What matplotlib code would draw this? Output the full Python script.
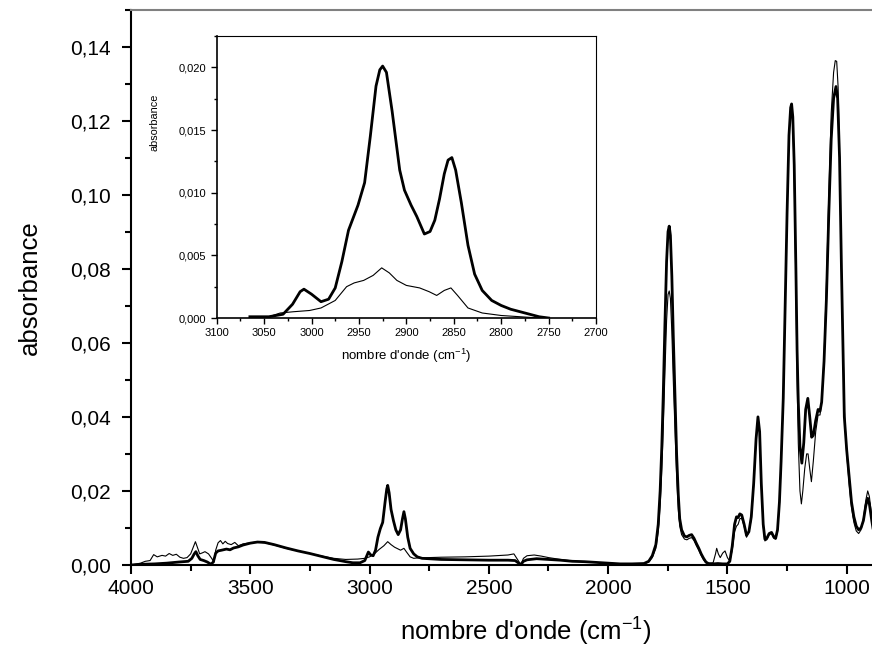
import numpy as np
import matplotlib
matplotlib.use('Agg')
import matplotlib.pyplot as plt
from matplotlib.ticker import MultipleLocator, FuncFormatter

plt.rcParams['font.family'] = ['Liberation Sans', 'DejaVu Sans']
plt.rcParams['mathtext.fontset'] = 'custom'
plt.rcParams['mathtext.rm'] = 'Liberation Sans'
plt.rcParams['mathtext.default'] = 'regular'

# main spectrum, thick line (wavenumber, absorbance)
wn_thick = [4000, 3950, 3900, 3850, 3800, 3760, 3745, 3735, 3728, 3720, 3710, 3695, 3680, 3665,
            3655, 3645, 3635, 3620, 3600, 3585, 3570, 3550, 3530, 3500, 3470, 3440, 3400, 3350,
            3300, 3250, 3200, 3150, 3100, 3070, 3040, 3020, 3005, 2995, 2985, 2975, 2965, 2955,
            2945, 2935, 2928, 2924, 2918, 2910, 2900, 2890, 2880, 2870, 2862, 2856, 2850, 2840,
            2830, 2815, 2800, 2780, 2700, 2600, 2500, 2420, 2390, 2375, 2366, 2355, 2340, 2300,
            2250, 2200, 2150, 2100, 2050, 2000, 1950, 1900, 1850, 1830, 1815, 1800, 1790, 1782,
            1775, 1769, 1762, 1755, 1749, 1744, 1739, 1733, 1727, 1720, 1713, 1706, 1700, 1692,
            1680, 1670, 1660, 1650, 1640, 1630, 1620, 1610, 1600, 1590, 1580, 1560, 1540, 1520,
            1500, 1490, 1480, 1470, 1462, 1455, 1448, 1440, 1430, 1420, 1410, 1400, 1390, 1380,
            1372, 1365, 1358, 1350, 1343, 1335, 1325, 1315, 1305, 1298, 1290, 1282, 1275, 1266,
            1258, 1250, 1242, 1235, 1231, 1226, 1220, 1213, 1208, 1203, 1196, 1188, 1180, 1172,
            1163, 1155, 1147, 1140, 1130, 1120, 1112, 1105, 1095, 1085, 1075, 1065, 1055, 1045,
            1038, 1030, 1022, 1010, 1000, 990, 980, 970, 960, 950, 940, 930, 920, 912, 905, 895,
            890]
abs_thick = [0.0, 0.0002, 0.0003, 0.0005, 0.0008, 0.001, 0.0018, 0.003, 0.0036, 0.0025, 0.0015,
             0.0012, 0.0008, 0.0002, 0.0008, 0.0032, 0.0038, 0.004, 0.0043, 0.0041, 0.0046, 0.0049,
             0.0054, 0.0059, 0.0062, 0.0061, 0.0055, 0.0046, 0.0038, 0.0031, 0.0023, 0.0015, 0.0009,
             0.0006, 0.0006, 0.0012, 0.0035, 0.0027, 0.0025, 0.004, 0.0075, 0.0098, 0.0115, 0.017,
             0.0205, 0.0215, 0.0195, 0.015, 0.012, 0.0095, 0.0082, 0.0095, 0.0125, 0.0144, 0.0125,
             0.0075, 0.0045, 0.003, 0.0022, 0.0018, 0.0015, 0.0014, 0.0013, 0.0013, 0.0012, 0.0005,
             0.0001, 0.001, 0.0014, 0.0017, 0.0015, 0.0013, 0.001, 0.0009, 0.0007, 0.0005, 0.0003,
             0.0003, 0.0004, 0.001, 0.0025, 0.0055, 0.011, 0.02, 0.032, 0.046, 0.065, 0.082, 0.09,
             0.0915, 0.089, 0.078, 0.062, 0.046, 0.03, 0.019, 0.0125, 0.0095, 0.0078, 0.0076, 0.008,
             0.0082, 0.0072, 0.0058, 0.0045, 0.003, 0.0018, 0.0008, 0.0004, 0.0003, 0.0004, 0.0003,
             0.0003, 0.001, 0.005, 0.011, 0.013, 0.0128, 0.0138, 0.0135, 0.011, 0.008, 0.009, 0.013,
             0.022, 0.034, 0.04, 0.036, 0.022, 0.011, 0.007, 0.0072, 0.0085, 0.0088, 0.0075, 0.0072,
             0.0095, 0.017, 0.028, 0.045, 0.07, 0.095, 0.116, 0.1235, 0.1245, 0.121, 0.108, 0.08,
             0.058, 0.044, 0.032, 0.0275, 0.033, 0.042, 0.045, 0.04, 0.0345, 0.035, 0.039, 0.042,
             0.0415, 0.044, 0.055, 0.072, 0.095, 0.115, 0.126, 0.1292, 0.126, 0.11, 0.08, 0.04,
             0.031, 0.024, 0.017, 0.013, 0.0105, 0.0095, 0.01, 0.012, 0.016, 0.018, 0.0165, 0.012,
             0.01]

# main spectrum, thin line
wn_thin = [4000, 3960, 3940, 3920, 3905, 3890, 3870, 3855, 3840, 3825, 3810, 3795, 3780, 3765,
           3750, 3738, 3730, 3722, 3712, 3700, 3690, 3675, 3662, 3652, 3645, 3635, 3625, 3615,
           3605, 3595, 3580, 3565, 3550, 3530, 3500, 3470, 3440, 3400, 3350, 3300, 3250, 3200,
           3150, 3100, 3050, 3020, 3000, 2980, 2960, 2940, 2924, 2910, 2895, 2880, 2870, 2856,
           2845, 2830, 2815, 2800, 2700, 2600, 2500, 2420, 2395, 2380, 2366, 2355, 2340, 2310,
           2280, 2250, 2200, 2150, 2100, 2050, 2000, 1950, 1900, 1850, 1830, 1815, 1800, 1790,
           1782, 1775, 1769, 1762, 1755, 1749, 1744, 1739, 1733, 1727, 1720, 1713, 1706, 1700,
           1692, 1680, 1670, 1660, 1650, 1640, 1630, 1620, 1610, 1600, 1590, 1575, 1560, 1550,
           1545, 1538, 1530, 1520, 1510, 1500, 1490, 1480, 1470, 1462, 1455, 1448, 1440, 1430,
           1420, 1410, 1400, 1390, 1380, 1372, 1365, 1358, 1350, 1343, 1335, 1325, 1315, 1305,
           1298, 1290, 1282, 1275, 1266, 1258, 1250, 1242, 1235, 1231, 1226, 1220, 1213, 1208,
           1203, 1196, 1190, 1184, 1176, 1168, 1162, 1155, 1148, 1140, 1130, 1120, 1112, 1105,
           1095, 1085, 1075, 1065, 1055, 1048, 1042, 1036, 1030, 1022, 1010, 1000, 990, 980, 970,
           960, 950, 940, 930, 920, 912, 905, 895, 890]
abs_thin = [0.0, 0.0005, 0.001, 0.0012, 0.0028, 0.0022, 0.0026, 0.0024, 0.0031, 0.0026, 0.0029,
            0.0021, 0.0018, 0.002, 0.003, 0.005, 0.0063, 0.0048, 0.003, 0.0033, 0.0036, 0.003,
            0.0018, 0.0008, 0.004, 0.006, 0.0066, 0.0057, 0.0064, 0.0058, 0.0055, 0.0061, 0.0052,
            0.0057, 0.006, 0.0062, 0.006, 0.0054, 0.0045, 0.0038, 0.0031, 0.0024, 0.0018, 0.0015,
            0.0016, 0.0018, 0.0022, 0.003, 0.0042, 0.0052, 0.0063, 0.0055, 0.0048, 0.0043, 0.004,
            0.0045, 0.0035, 0.0022, 0.0018, 0.0019, 0.0021, 0.0022, 0.0024, 0.0027, 0.003, 0.0015,
            0.0001, 0.0018, 0.0025, 0.0027, 0.0024, 0.002, 0.0015, 0.0011, 0.0009, 0.0007, 0.0005,
            0.0003, 0.0002, 0.0003, 0.0008, 0.002, 0.0045, 0.009, 0.016, 0.026, 0.037, 0.052,
            0.066, 0.073, 0.074, 0.072, 0.063, 0.05, 0.037, 0.024, 0.015, 0.0105, 0.0082, 0.007,
            0.0068, 0.0072, 0.0074, 0.0066, 0.0052, 0.004, 0.0026, 0.0014, 0.0006, 0.0004, 0.0006,
            0.003, 0.0045, 0.003, 0.002, 0.0032, 0.0038, 0.002, 0.001, 0.004, 0.009, 0.0105, 0.011,
            0.0125, 0.0126, 0.0105, 0.0075, 0.0088, 0.0125, 0.0215, 0.0335, 0.0395, 0.0355, 0.0215,
            0.0105, 0.0065, 0.0068, 0.0082, 0.0085, 0.0072, 0.007, 0.009, 0.0165, 0.0275, 0.0445,
            0.07, 0.095, 0.116, 0.1235, 0.1245, 0.12, 0.105, 0.075, 0.05, 0.033, 0.02, 0.0165, 0.02,
            0.026, 0.03, 0.03, 0.026, 0.0225, 0.028, 0.036, 0.0405, 0.0405, 0.044, 0.056, 0.076, 0.1,
            0.122, 0.133, 0.1362, 0.136, 0.129, 0.11, 0.08, 0.042, 0.03, 0.022, 0.0155, 0.0115,
            0.0092, 0.0085, 0.0095, 0.0125, 0.0175, 0.02, 0.0185, 0.013, 0.011]

# inset (C-H stretching region)
wn_in_thick = [3065, 3045, 3030, 3020, 3012, 3008, 3000, 2990, 2982, 2975, 2968, 2961, 2955,
               2951, 2944, 2938, 2932, 2928, 2925, 2921, 2915, 2907, 2902, 2895, 2889, 2881,
               2875, 2870, 2865, 2860, 2856, 2852, 2848, 2842, 2835, 2828, 2820, 2810, 2800,
               2790, 2775, 2760, 2750]
abs_in_thick = [0.0001, 0.0001, 0.0003, 0.0011, 0.0021, 0.0023, 0.0019, 0.0013, 0.0015, 0.0024,
                0.0045, 0.007, 0.0082, 0.009, 0.0108, 0.0145, 0.0185, 0.0198, 0.0201, 0.0196,
                0.0165, 0.0118, 0.0102, 0.009, 0.0081, 0.0067, 0.0069, 0.0078, 0.0095, 0.0115,
                0.0126, 0.0128, 0.0118, 0.0092, 0.0058, 0.0035, 0.0022, 0.0014, 0.001, 0.0007,
                0.0004, 0.0001, 0.0]
wn_in_thin = [3065, 3045, 3033, 3019, 3002, 2990, 2975, 2963, 2955, 2945, 2935, 2926, 2918,
              2910, 2900, 2886, 2876, 2868, 2860, 2853, 2846, 2835, 2820, 2800, 2780, 2760]
abs_in_thin = [0.0001, 0.0001, 0.0004, 0.0005, 0.0006, 0.0008, 0.0014, 0.0025, 0.0028, 0.003,
               0.0034, 0.004, 0.0036, 0.003, 0.0026, 0.0024, 0.0021, 0.0018, 0.0022, 0.0024,
               0.0018, 0.0008, 0.0004, 0.0002, 0.0001, 0.0]

fig = plt.figure(figsize=(8.72, 6.55), dpi=100)
ax = fig.add_axes([131 / 872, 1 - 565 / 655, 1 - 131 / 872, (565 - 9.5) / 655])

ax.plot(wn_thin, abs_thin, color='black', lw=0.8)
ax.plot(wn_thick, abs_thick, color='black', lw=2.0)

ax.set_xlim(4000, 894)
ax.set_ylim(0, 0.15)
ax.xaxis.set_major_locator(MultipleLocator(500))
ax.xaxis.set_minor_locator(MultipleLocator(250))
ax.yaxis.set_major_locator(MultipleLocator(0.02))
ax.yaxis.set_minor_locator(MultipleLocator(0.01))
ax.yaxis.set_major_formatter(FuncFormatter(lambda v, p: f'{v:.2f}'.replace('.', ',')))
ax.tick_params(which='both', direction='out', width=1.5, labelsize=15)
ax.tick_params(which='major', length=6.5)
ax.tick_params(which='minor', length=4)
ax.tick_params(axis='y', pad=8)
ax.spines['right'].set_visible(False)
ax.spines['top'].set_color('#808080')
ax.spines['top'].set_linewidth(1.5)
ax.spines['left'].set_linewidth(1.5)
ax.spines['bottom'].set_linewidth(1.5)
ax.set_ylabel('absorbance', fontsize=18.5)
ax.yaxis.set_label_coords(-0.120, 0.5)
ax.set_xlabel("nombre d'onde (cm$^{-1}$)", fontsize=18.5)
ax.xaxis.set_label_coords((526 - 131) / 741, -0.092)

# inset
ins = fig.add_axes([216.7 / 872, 1 - 318 / 655, (596 - 216.7) / 872, (318 - 36) / 655])
ins.plot(wn_in_thin, abs_in_thin, color='black', lw=0.8)
ins.plot(wn_in_thick, abs_in_thick, color='black', lw=2.0)
ins.set_xlim(3100, 2700)
ins.set_ylim(0, 0.0225)
ins.xaxis.set_major_locator(MultipleLocator(50))
ins.xaxis.set_minor_locator(MultipleLocator(25))
ins.yaxis.set_major_locator(MultipleLocator(0.005))
ins.yaxis.set_minor_locator(MultipleLocator(0.0025))
ins.yaxis.set_major_formatter(FuncFormatter(lambda v, p: f'{v:.3f}'.replace('.', ',')))
ins.tick_params(which='both', direction='out', width=1.0, labelsize=8)
ins.tick_params(which='major', length=4)
ins.tick_params(which='minor', length=2.5)
ins.spines['left'].set_linewidth(1.2)
ins.spines['bottom'].set_linewidth(1.2)
ins.spines['top'].set_linewidth(0.8)
ins.spines['right'].set_linewidth(0.8)
ins.set_ylabel('absorbance', fontsize=7.8)
ins.yaxis.set_label_coords(-0.152, 0.695)
ins.set_xlabel("nombre d'onde (cm$^{-1}$)", fontsize=9.5, labelpad=6)

fig.savefig('out.png', dpi=100)
